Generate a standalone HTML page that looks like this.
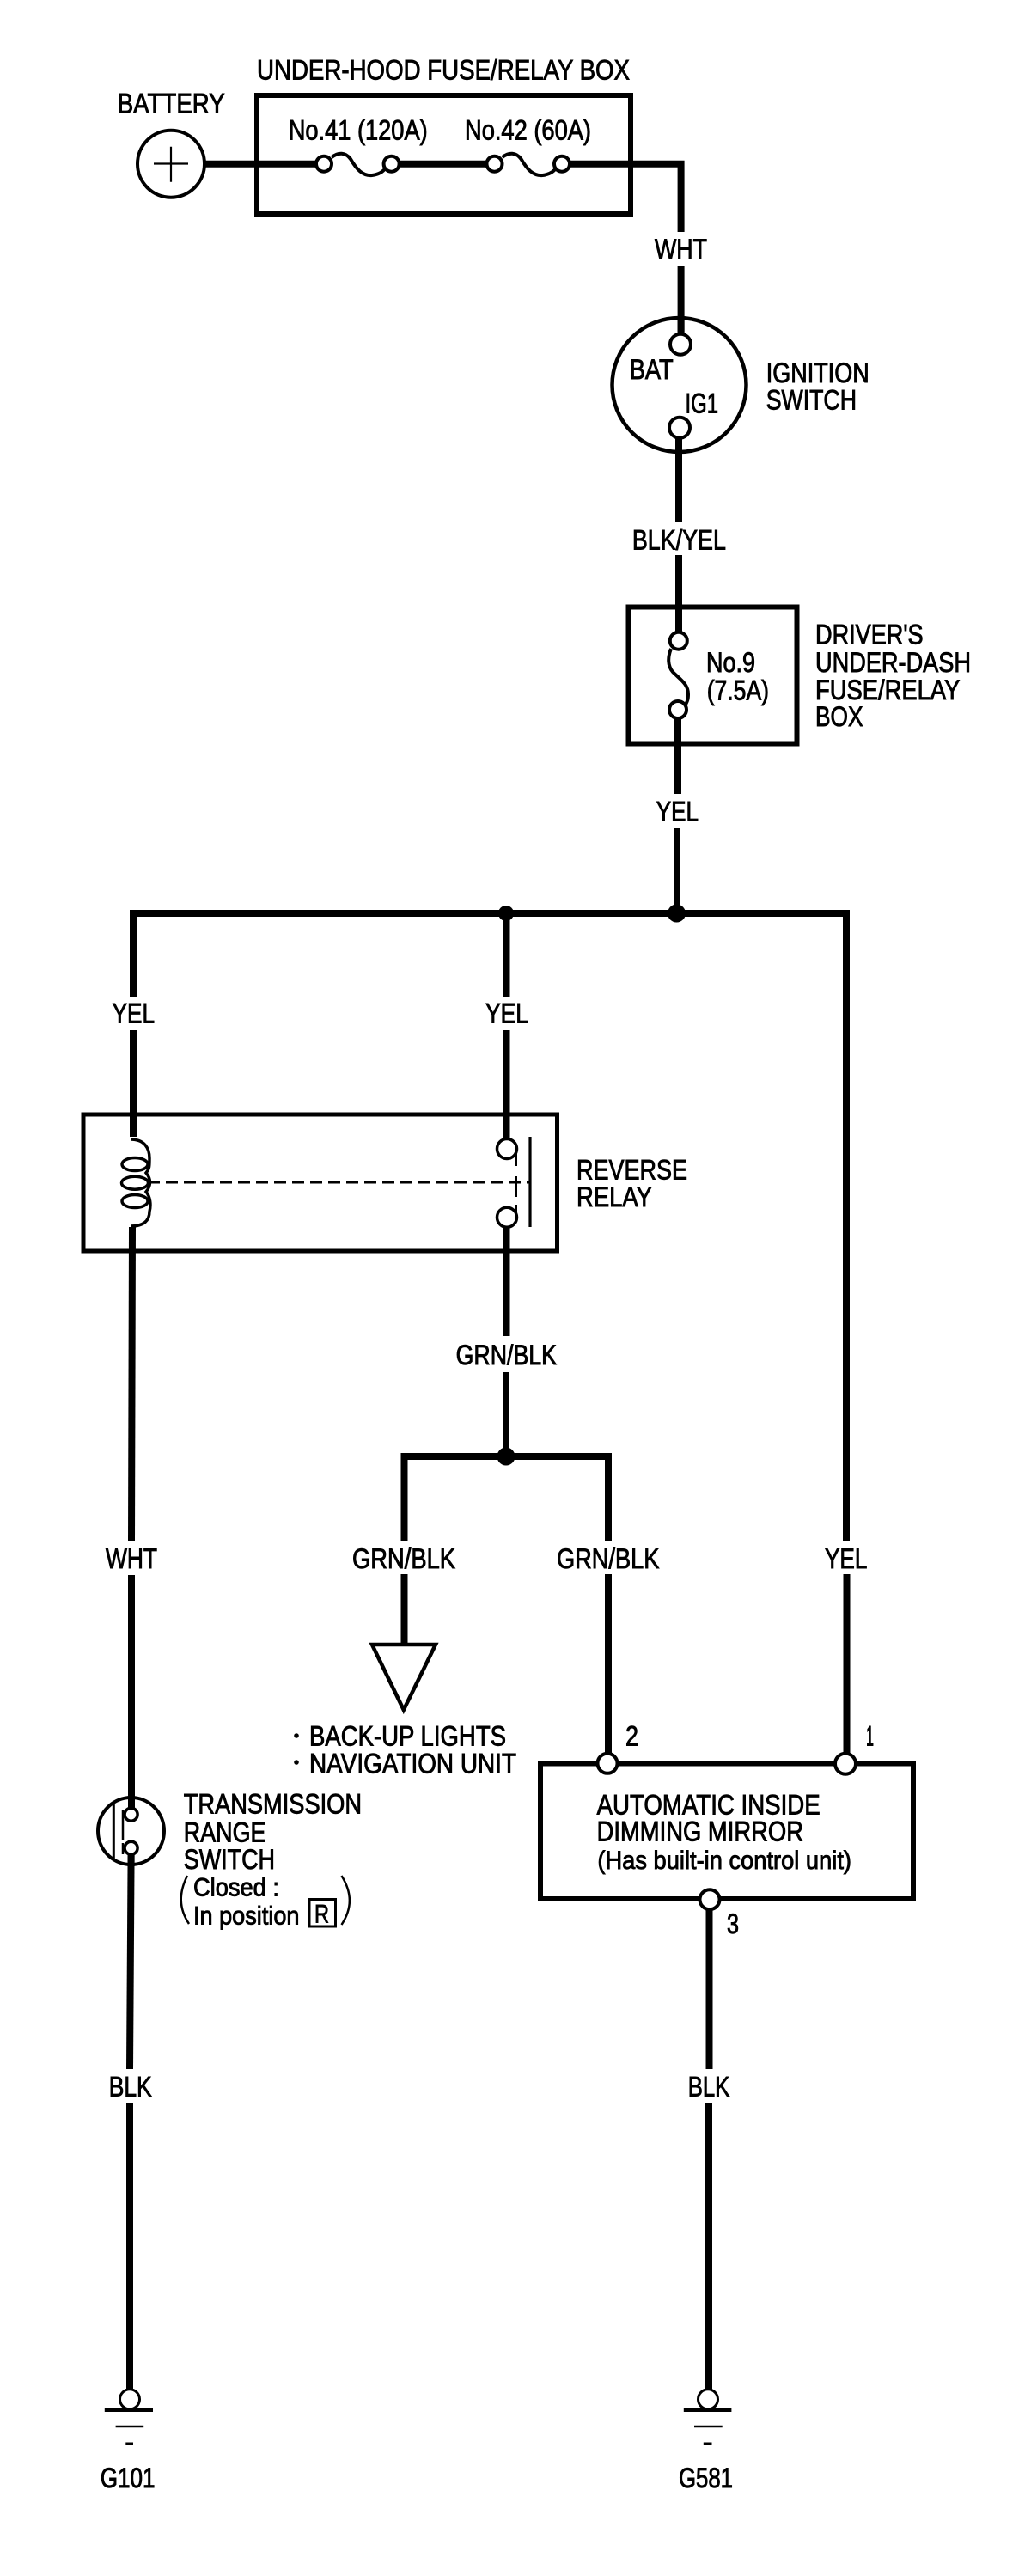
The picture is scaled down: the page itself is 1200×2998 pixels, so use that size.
<!DOCTYPE html>
<html><head><meta charset="utf-8"><title>Reverse relay wiring diagram</title>
<style>
html,body{margin:0;padding:0;background:#fff}
svg{display:block}
text{font-family:"Liberation Sans",sans-serif;font-size:32px;fill:#000;stroke:#000;stroke-width:.9;}
.s{font-size:30px}
.w{fill:none;stroke:#000;stroke-width:8}
.b{fill:none;stroke:#000;stroke-width:6}
.t{fill:#fff;stroke:#000;stroke-width:4}
.l{fill:none;stroke:#000;stroke-width:4}
</style></head><body>
<svg xmlns="http://www.w3.org/2000/svg" width="1200" height="2998" viewBox="0 0 1200 2998">
<rect width="1200" height="2998" fill="#fff"/>

<!-- Boxes -->
<rect class="b" x="299" y="111" width="435" height="138"/>
<rect class="b" x="731.5" y="706.5" width="196" height="159"/>
<rect class="b" x="97" y="1297" width="551.5" height="159" style="stroke-width:5"/>
<rect class="b" x="629" y="2052.5" width="434" height="157.5"/>

<!-- Wires -->
<path class="w" d="M236 190.7H368"/>
<path class="w" d="M464 190.7H566"/>
<path class="w" d="M663 190.7H792.6V270"/>
<path class="w" d="M792.6 310V390"/>
<path class="w" d="M790 508V607"/>
<path class="w" d="M790 646V737"/>
<path class="w" d="M789 835V924"/>
<path class="w" d="M788 964V1063"/>
<path class="w" d="M155 1160V1063H985V1793"/>
<path class="w" d="M985.5 1832V2042"/>
<path class="w" d="M155 1199V1323"/>
<path class="w" d="M154 1428L153 1794"/>
<path class="w" d="M153 1833V2104"/>
<path class="w" d="M152.6 2158L151 2408"/>
<path class="w" d="M151 2447V2782"/>
<path class="w" d="M589.5 1063V1160"/>
<path class="w" d="M589.5 1199V1326"/>
<path class="w" d="M589.5 1428V1555"/>
<path class="w" d="M589 1597V1695"/>
<path class="w" d="M470.5 1793V1695H708V1793"/>
<path class="w" d="M470.5 1832V1914"/>
<path class="w" d="M708 1832V2042"/>
<path class="w" d="M825.5 2222V2408"/>
<path class="w" d="M825 2447V2782"/>

<!-- Junctions -->
<circle cx="589" cy="1063" r="9"/>
<circle cx="787.5" cy="1063" r="10.5"/>
<circle cx="589" cy="1695" r="10.5"/>

<!-- Battery -->
<circle cx="199" cy="190.7" r="39" fill="#fff" stroke="#000" stroke-width="4"/>
<path d="M179 190.5H219M199 170.7V211.7" stroke="#000" stroke-width="2.2" fill="none"/>

<!-- Fuses top -->
<path class="l" d="M386 183C394 177 402 177 408 185C415 197 422 205 433 204C441 203 446 200 449 195"/>
<path class="l" d="M584.5 183C592.5 177 600.5 177 606.5 185C613.5 197 620.5 205 631.5 204C639.5 203 644.5 200 647.5 195"/>
<circle class="t" cx="377" cy="190.7" r="9"/>
<circle class="t" cx="455.6" cy="190.7" r="9"/>
<circle class="t" cx="575.5" cy="190.7" r="9"/>
<circle class="t" cx="654" cy="190.7" r="9"/>

<!-- Ignition switch -->
<circle cx="790.5" cy="448" r="78" fill="none" stroke="#000" stroke-width="4.5"/>
<path class="w" d="M792.6 368V390"/>
<path class="w" d="M790 508V530"/>
<circle class="t" cx="792" cy="400.7" r="12"/>
<circle class="t" cx="791" cy="497.7" r="12"/>

<!-- No.9 fuse -->
<path class="l" d="M781 755C777 765 777 775 783 782C792 791 801 796 801 808C801 814 800 816 798 820"/>
<circle class="t" cx="789.8" cy="745.7" r="10"/>
<circle class="t" cx="789" cy="826" r="10"/>

<!-- Relay -->
<path class="l" d="M152 1326C168 1326 174 1336 174 1348C174 1358 174 1360 170 1365C176 1372 176 1380 170 1387C175 1393 176 1402 174 1410C174 1420 168 1427 152 1427" style="stroke-width:3.5"/>
<ellipse class="l" cx="157" cy="1355" rx="15" ry="7.5" style="stroke-width:3.5"/>
<ellipse class="l" cx="157" cy="1376.7" rx="15.5" ry="7.5" style="stroke-width:3.5"/>
<ellipse class="l" cx="157" cy="1398" rx="15" ry="7.5" style="stroke-width:3.5"/>
<path d="M172 1376H616" stroke="#000" stroke-width="3" stroke-dasharray="14 7" fill="none"/>
<path d="M617 1323V1428" stroke="#000" stroke-width="3.2" fill="none"/>
<path d="M601 1340V1357M601 1369V1393M601 1402V1420" stroke="#000" stroke-width="2" fill="none"/>
<circle cx="590" cy="1337" r="11.5" fill="#fff" stroke="#000" stroke-width="3.5"/>
<circle cx="590" cy="1416.7" r="11.5" fill="#fff" stroke="#000" stroke-width="3.5"/>

<!-- Triangle -->
<polygon points="433,1914 507,1914 469.8,1990" fill="#fff" stroke="#000" stroke-width="4.5" stroke-linejoin="miter"/>

<!-- Transmission switch -->
<ellipse cx="152.5" cy="2131" rx="38.5" ry="39" fill="none" stroke="#000" stroke-width="4"/>
<path d="M132.3 2097V2163" stroke="#000" stroke-width="3" fill="none"/>
<path d="M143 2106V2141M143 2145V2158" stroke="#000" stroke-width="2.5" fill="none"/>
<path class="w" d="M153 2090V2104"/>
<path class="w" d="M152.6 2158V2172"/>
<circle class="t" cx="152.6" cy="2111.7" r="7.5" style="stroke-width:3.5"/>
<circle class="t" cx="152.6" cy="2150.7" r="7.5" style="stroke-width:3.5"/>
<path class="l" d="M218 2183C208 2203 208 2221 220 2239" style="stroke-width:2.5"/>
<path class="l" d="M397.5 2183C410 2203 410 2221 397.5 2240" style="stroke-width:2.5"/>
<rect x="360" y="2210.5" width="30.5" height="31.500" fill="none" stroke="#000" stroke-width="3"/>

<!-- Mirror terminals -->
<circle class="t" cx="707" cy="2052.3" r="11.5"/>
<circle class="t" cx="984" cy="2052.7" r="12"/>
<circle class="t" cx="826" cy="2210.7" r="11.5"/>

<!-- Grounds -->
<circle class="t" cx="151" cy="2792.3" r="11.5" style="stroke-width:3"/>
<path d="M121.8 2804.5H178" stroke="#000" stroke-width="5" fill="none"/>
<path d="M134.6 2824H167.2" stroke="#000" stroke-width="2.5" fill="none"/>
<path d="M146.3 2844H155" stroke="#000" stroke-width="3" fill="none"/>
<circle class="t" cx="824" cy="2792.3" r="11.5" style="stroke-width:3"/>
<path d="M795.8 2804.5H851.4" stroke="#000" stroke-width="5" fill="none"/>
<path d="M808 2824H840.7" stroke="#000" stroke-width="2.5" fill="none"/>
<path d="M818.8 2844H828.5" stroke="#000" stroke-width="3" fill="none"/>

<!-- Dots -->
<circle cx="345" cy="2020" r="2.8"/>
<circle cx="345" cy="2051" r="2.8"/>

<!-- Labels -->
<text x="299" y="92.7" textLength="434" lengthAdjust="spacingAndGlyphs">UNDER-HOOD FUSE/RELAY BOX</text>
<text x="136.7" y="131.5" textLength="125" lengthAdjust="spacingAndGlyphs">BATTERY</text>
<text x="335.7" y="162.7" textLength="162" lengthAdjust="spacingAndGlyphs">No.41 (120A)</text>
<text x="541" y="162.7" textLength="147" lengthAdjust="spacingAndGlyphs">No.42 (60A)</text>
<text x="762" y="301" textLength="61" lengthAdjust="spacingAndGlyphs">WHT</text>
<text x="732.7" y="441" textLength="51" lengthAdjust="spacingAndGlyphs">BAT</text>
<text x="797.5" y="480.7" textLength="38.5" lengthAdjust="spacingAndGlyphs">IG1</text>
<text x="891.7" y="445" textLength="120" lengthAdjust="spacingAndGlyphs">IGNITION</text>
<text x="891.7" y="476.7" textLength="105.3" lengthAdjust="spacingAndGlyphs">SWITCH</text>
<text x="735.9" y="639.7" textLength="109" lengthAdjust="spacingAndGlyphs">BLK/YEL</text>
<text x="822" y="782" textLength="57" lengthAdjust="spacingAndGlyphs">No.9</text>
<text x="822.7" y="814.6" textLength="72.3" lengthAdjust="spacingAndGlyphs">(7.5A)</text>
<text x="949" y="749.5" textLength="125.6" lengthAdjust="spacingAndGlyphs">DRIVER'S</text>
<text x="949" y="782" textLength="181" lengthAdjust="spacingAndGlyphs">UNDER-DASH</text>
<text x="949" y="813.8" textLength="168.4" lengthAdjust="spacingAndGlyphs">FUSE/RELAY</text>
<text x="949" y="845.2" textLength="55.5" lengthAdjust="spacingAndGlyphs">BOX</text>
<text x="763.8" y="955.4" textLength="49.2" lengthAdjust="spacingAndGlyphs">YEL</text>
<text x="130.6" y="1190.7" textLength="49.4" lengthAdjust="spacingAndGlyphs">YEL</text>
<text x="565" y="1190.7" textLength="50" lengthAdjust="spacingAndGlyphs">YEL</text>
<text x="671" y="1372.7" textLength="129" lengthAdjust="spacingAndGlyphs">REVERSE</text>
<text x="671" y="1404" textLength="88" lengthAdjust="spacingAndGlyphs">RELAY</text>
<text x="530.6" y="1588" textLength="117.4" lengthAdjust="spacingAndGlyphs">GRN/BLK</text>
<text x="123" y="1825" textLength="60" lengthAdjust="spacingAndGlyphs">WHT</text>
<text x="410" y="1825" textLength="120" lengthAdjust="spacingAndGlyphs">GRN/BLK</text>
<text x="648" y="1825" textLength="119.4" lengthAdjust="spacingAndGlyphs">GRN/BLK</text>
<text x="960" y="1825" textLength="49.4" lengthAdjust="spacingAndGlyphs">YEL</text>
<text x="360" y="2031.7" textLength="229" lengthAdjust="spacingAndGlyphs">BACK-UP LIGHTS</text>
<text x="360" y="2063.3" textLength="241" lengthAdjust="spacingAndGlyphs">NAVIGATION UNIT</text>
<text x="728" y="2031.7" textLength="15" lengthAdjust="spacingAndGlyphs">2</text>
<text x="1008" y="2031.7" textLength="9" lengthAdjust="spacingAndGlyphs">1</text>
<text x="846" y="2250" textLength="14" lengthAdjust="spacingAndGlyphs">3</text>
<text x="213.8" y="2110.7" textLength="207.2" lengthAdjust="spacingAndGlyphs">TRANSMISSION</text>
<text x="213.8" y="2143.3" textLength="95.7" lengthAdjust="spacingAndGlyphs">RANGE</text>
<text x="213.8" y="2175" textLength="106.2" lengthAdjust="spacingAndGlyphs">SWITCH</text>
<text class="s" x="225" y="2206.7" textLength="100" lengthAdjust="spacingAndGlyphs">Closed :</text>
<text class="s" x="225" y="2239.3" textLength="123.5" lengthAdjust="spacingAndGlyphs">In position</text>
<text class="s" x="366" y="2237.3" textLength="17" lengthAdjust="spacingAndGlyphs">R</text>
<text x="694.6" y="2111.7" textLength="260.1" lengthAdjust="spacingAndGlyphs">AUTOMATIC INSIDE</text>
<text x="694.6" y="2142.7" textLength="240.4" lengthAdjust="spacingAndGlyphs">DIMMING MIRROR</text>
<text class="s" x="695.4" y="2175" textLength="295.6" lengthAdjust="spacingAndGlyphs">(Has built-in control unit)</text>
<text x="126.7" y="2439.3" textLength="50" lengthAdjust="spacingAndGlyphs">BLK</text>
<text x="800.7" y="2439.3" textLength="48.6" lengthAdjust="spacingAndGlyphs">BLK</text>
<text x="116.7" y="2895" textLength="63.8" lengthAdjust="spacingAndGlyphs">G101</text>
<text x="790" y="2895" textLength="63" lengthAdjust="spacingAndGlyphs">G581</text>
</svg>
</body></html>
